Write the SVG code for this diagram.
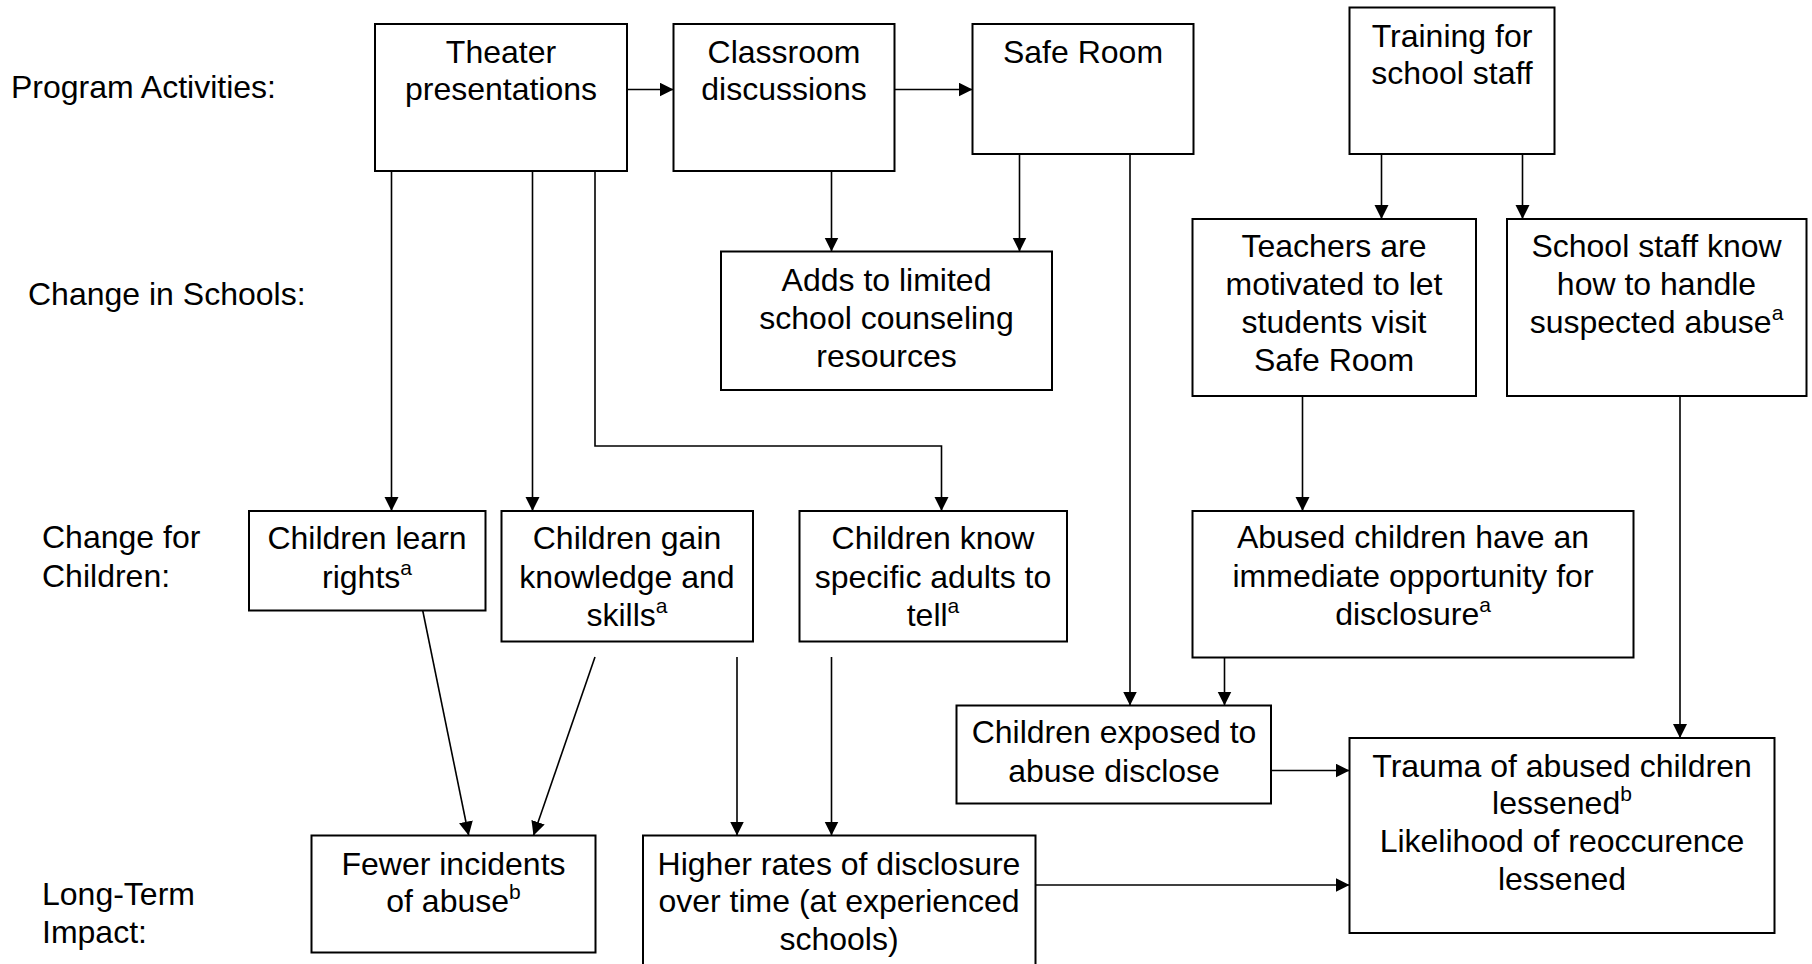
<svg xmlns="http://www.w3.org/2000/svg" width="1812" height="964" viewBox="0 0 1812 964">
<style>
text{font-family:"Liberation Sans",Arial,sans-serif;font-size:32px;fill:#000}
.c{text-anchor:middle}
.box{fill:#fff;stroke:#000;stroke-width:2}
.con{fill:none;stroke:#000;stroke-width:1.6}
.arr{marker-end:url(#ah)}
.sup{font-size:21px}
</style>
<defs>
<marker id="ah" markerUnits="userSpaceOnUse" markerWidth="15" markerHeight="15" refX="14" refY="7" orient="auto">
<path d="M0,0 L14,7 L0,14 z" fill="#000"/>
</marker>
</defs>
<rect width="1812" height="964" fill="#fff"/>
<g id="labels">
<text x="11" y="98">Program Activities:</text>
<text x="28" y="305">Change in Schools:</text>
<text x="42" y="548">Change for</text>
<text x="42" y="587">Children:</text>
<text x="42" y="905">Long-Term</text>
<text x="42" y="943">Impact:</text>
</g>
<g id="connectors">
<line class="con arr" x1="627" y1="89.5" x2="673.5" y2="89.5"/>
<line class="con arr" x1="894.5" y1="89.5" x2="972.5" y2="89.5"/>
<line class="con arr" x1="831.5" y1="171" x2="831.5" y2="251.5"/>
<line class="con arr" x1="1019.5" y1="154" x2="1019.5" y2="251.5"/>
<line class="con arr" x1="1381.5" y1="154" x2="1381.5" y2="219"/>
<line class="con arr" x1="1522.5" y1="154" x2="1522.5" y2="219"/>
<line class="con arr" x1="391.5" y1="171" x2="391.5" y2="511"/>
<line class="con arr" x1="532.5" y1="171" x2="532.5" y2="511"/>
<polyline class="con arr" points="595,171 595,446 941.5,446 941.5,511"/>
<line class="con arr" x1="1130" y1="154" x2="1130" y2="705.5"/>
<line class="con arr" x1="1302.5" y1="396" x2="1302.5" y2="511"/>
<line class="con arr" x1="1224.5" y1="657.5" x2="1224.5" y2="705.5"/>
<line class="con arr" x1="1680" y1="396" x2="1680" y2="738"/>
<line class="con arr" x1="422" y1="607" x2="468.7" y2="835.5"/>
<line class="con arr" x1="595" y1="657" x2="533.5" y2="835.5"/>
<line class="con arr" x1="737" y1="657" x2="737" y2="835.5"/>
<line class="con arr" x1="831.5" y1="657" x2="831.5" y2="835.5"/>
<line class="con arr" x1="1271" y1="770.5" x2="1349.5" y2="770.5"/>
<line class="con arr" x1="1035.5" y1="885" x2="1349.5" y2="885"/>
</g>
<g id="theater">
<rect class="box" x="375" y="24" width="252" height="147"/>
<text class="c" x="501" y="63">Theater</text>
<text class="c" x="501" y="100">presentations</text>
</g>
<g id="classroom">
<rect class="box" x="673.5" y="24" width="221" height="147"/>
<text class="c" x="784" y="63">Classroom</text>
<text class="c" x="784" y="100">discussions</text>
</g>
<g id="saferoom">
<rect class="box" x="972.5" y="24" width="221" height="130"/>
<text class="c" x="1083" y="63">Safe Room</text>
</g>
<g id="training">
<rect class="box" x="1349.5" y="7.5" width="205" height="146.5"/>
<text class="c" x="1452" y="47">Training for</text>
<text class="c" x="1452" y="84">school staff</text>
</g>
<g id="adds">
<rect class="box" x="721" y="251.5" width="331" height="138.5"/>
<text class="c" x="886.5" y="291">Adds to limited</text>
<text class="c" x="886.5" y="329">school counseling</text>
<text class="c" x="886.5" y="367">resources</text>
</g>
<g id="teachers">
<rect class="box" x="1192.5" y="219" width="283.5" height="177"/>
<text class="c" x="1334" y="257">Teachers are</text>
<text class="c" x="1334" y="295">motivated to let</text>
<text class="c" x="1334" y="333">students visit</text>
<text class="c" x="1334" y="371">Safe Room</text>
</g>
<g id="staffknow">
<rect class="box" x="1507" y="219" width="299.5" height="177"/>
<text class="c" x="1656.5" y="257">School staff know</text>
<text class="c" x="1656.5" y="295">how to handle</text>
<text class="c" x="1656.5" y="333">suspected abuse<tspan class="sup" dy="-13">a</tspan></text>
</g>
<g id="learnrights">
<rect class="box" x="249" y="511" width="236.5" height="99.5"/>
<text class="c" x="367" y="549">Children learn</text>
<text class="c" x="367" y="588">rights<tspan class="sup" dy="-13">a</tspan></text>
</g>
<g id="gainknowledge">
<rect class="box" x="501.5" y="511" width="251.5" height="130.5"/>
<text class="c" x="627" y="549">Children gain</text>
<text class="c" x="627" y="588">knowledge and</text>
<text class="c" x="627" y="626">skills<tspan class="sup" dy="-13">a</tspan></text>
</g>
<g id="knowadults">
<rect class="box" x="799.5" y="511" width="267.5" height="130.5"/>
<text class="c" x="933" y="549">Children know</text>
<text class="c" x="933" y="588">specific adults to</text>
<text class="c" x="933" y="626">tell<tspan class="sup" dy="-13">a</tspan></text>
</g>
<g id="opportunity">
<rect class="box" x="1192.5" y="511" width="441" height="146.5"/>
<text class="c" x="1413" y="548">Abused children have an</text>
<text class="c" x="1413" y="587">immediate opportunity for</text>
<text class="c" x="1413" y="625">disclosure<tspan class="sup" dy="-13">a</tspan></text>
</g>
<g id="exposed">
<rect class="box" x="956.5" y="705.5" width="314.5" height="98"/>
<text class="c" x="1114" y="743">Children exposed to</text>
<text class="c" x="1114" y="782">abuse disclose</text>
</g>
<g id="fewer">
<rect class="box" x="311.5" y="835.5" width="284" height="117"/>
<text class="c" x="453.5" y="875">Fewer incidents</text>
<text class="c" x="453.5" y="912">of abuse<tspan class="sup" dy="-13">b</tspan></text>
</g>
<g id="higher">
<rect class="box" x="643" y="835.5" width="392.5" height="140"/>
<text class="c" x="839" y="875">Higher rates of disclosure</text>
<text class="c" x="839" y="912">over time (at experienced</text>
<text class="c" x="839" y="950">schools)</text>
</g>
<g id="trauma">
<rect class="box" x="1349.5" y="738" width="425" height="195"/>
<text class="c" x="1562" y="777">Trauma of abused children</text>
<text class="c" x="1562" y="814">lessened<tspan class="sup" dy="-13">b</tspan></text>
<text class="c" x="1562" y="852">Likelihood of reoccurence</text>
<text class="c" x="1562" y="890">lessened</text>
</g>
</svg>
